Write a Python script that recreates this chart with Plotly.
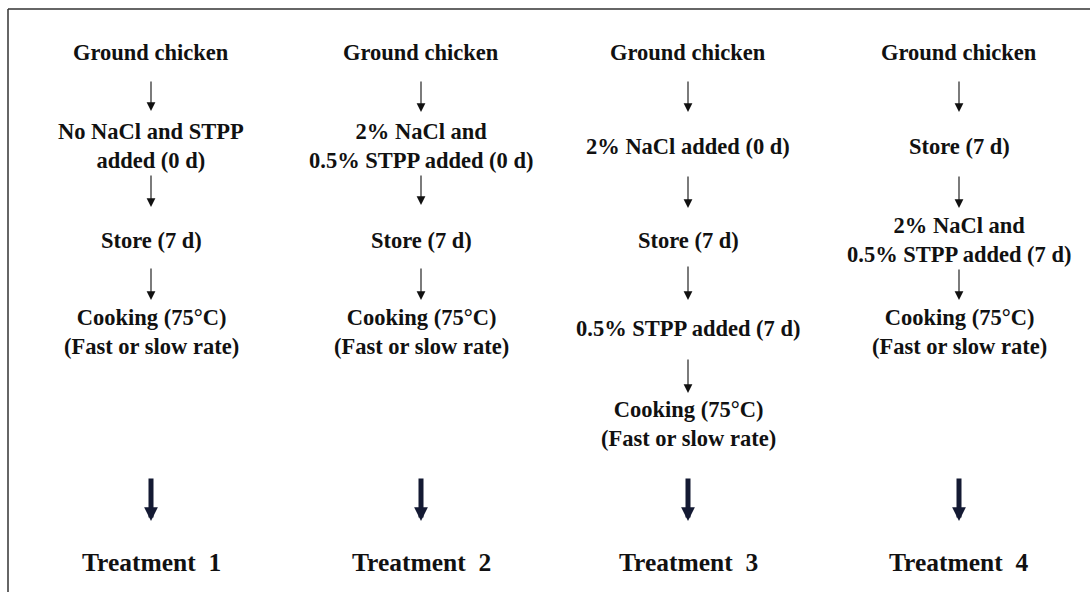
import plotly.graph_objects as go

W, H = 1090, 592

# Column centres (px) and step texts / their vertical centres
col_x = [151, 421, 688, 959]
steps = [
    ["Ground chicken", "No NaCl and STPP<br>added (0 d)", "Store (7 d)",
     "Cooking (75°C)<br>(Fast or slow rate)"],
    ["Ground chicken", "2% NaCl and<br>0.5% STPP added (0 d)", "Store (7 d)",
     "Cooking (75°C)<br>(Fast or slow rate)"],
    ["Ground chicken", "2% NaCl added (0 d)", "Store (7 d)",
     "0.5% STPP added (7 d)", "Cooking (75°C)<br>(Fast or slow rate)"],
    ["Ground chicken", "Store (7 d)", "2% NaCl and<br>0.5% STPP added (7 d)",
     "Cooking (75°C)<br>(Fast or slow rate)"],
]
step_y = [
    [52, 146, 240, 332],
    [52, 146, 240, 332],
    [52, 146, 240, 328, 424],
    [52, 146, 240, 332],
]
arrow_spans = [
    [(80, 111), (174, 207), (267, 300)],
    [(80, 112), (174, 205), (267, 300)],
    [(80, 112), (175, 208), (265, 300), (358, 393)],
    [(80, 112), (175, 208), (268, 300)],
]
treatments = ["Treatment  1", "Treatment  2", "Treatment  3", "Treatment  4"]
big_arrow = (477, 521)
treat_y = 562

FONT = "Liberation Serif"
fig = go.Figure()
fig.add_trace(go.Scatter(x=[0, W], y=[0, H], mode="markers",
                         marker=dict(opacity=0), hoverinfo="skip", showlegend=False))

ann = []
shapes = []
for ci, cx in enumerate(col_x):
    for txt, yy in zip(steps[ci], step_y[ci]):
        ann.append(dict(x=cx, y=yy, xref="x", yref="y", text=txt, showarrow=False,
                        font=dict(family=FONT, size=22.5, color="#111111", weight="bold"),
                        align="center", xanchor="center", yanchor="middle"))
    for y0, y1 in arrow_spans[ci]:
        ann.append(dict(x=cx, y=y1, ax=cx, ay=y0, xref="x", yref="y", axref="x", ayref="y",
                        text="", showarrow=True, arrowhead=2, arrowsize=1.6,
                        arrowwidth=1.1, arrowcolor="#111111"))
    # big arrow
    ann.append(dict(x=cx, y=big_arrow[1], ax=cx, ay=big_arrow[0], xref="x", yref="y",
                    axref="x", ayref="y", text="", showarrow=True, arrowhead=2,
                    arrowsize=0.55, arrowwidth=5, arrowcolor="#141a33"))
    ann.append(dict(x=cx, y=treat_y, xref="x", yref="y", text=treatments[ci], showarrow=False,
                    font=dict(family=FONT, size=25.5, color="#111111", weight="bold"),
                    xanchor="center", yanchor="middle"))

# frame (top and left borders)
shapes.append(dict(type="line", x0=8, x1=W + 5, y0=9, y1=9, xref="x", yref="y",
                   line=dict(color="#333333", width=1.5)))
shapes.append(dict(type="line", x0=8, x1=8, y0=9, y1=H + 5, xref="x", yref="y",
                   line=dict(color="#333333", width=1.5)))

fig.update_layout(
    width=W, height=H, margin=dict(l=0, r=0, t=0, b=0),
    paper_bgcolor="white", plot_bgcolor="white",
    xaxis=dict(range=[0, W], visible=False, fixedrange=True),
    yaxis=dict(range=[H, 0], visible=False, fixedrange=True),
    annotations=ann, shapes=shapes, showlegend=False,
)
fig.write_html("out.html", config={"displayModeBar": False},
               post_script="document.body.style.margin='0';document.body.style.overflow='hidden';")
